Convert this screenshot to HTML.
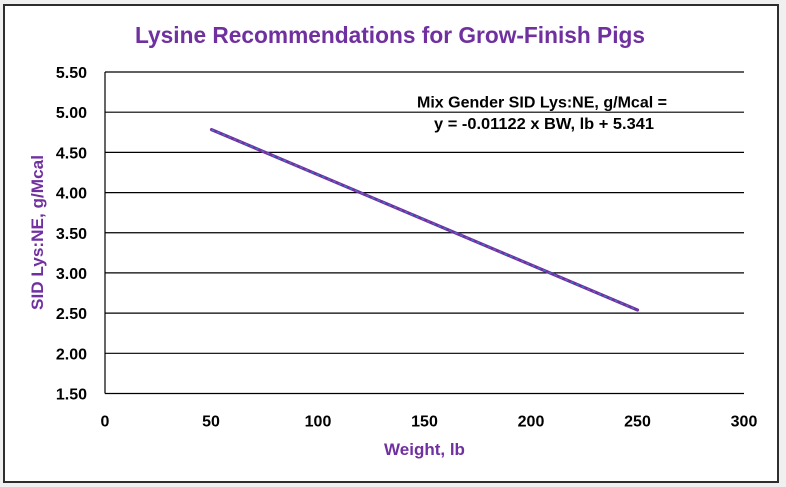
<!DOCTYPE html>
<html>
<head>
<meta charset="utf-8">
<style>
  html, body { margin:0; padding:0; background:#f0f0f0; }
  body { width:786px; height:487px; overflow:hidden; }
  svg { display:block; }
  text { font-family: "Liberation Sans", Arial, sans-serif; font-weight:bold; }
</style>
</head>
<body>
<svg width="786" height="487" viewBox="0 0 786 487" xmlns="http://www.w3.org/2000/svg">
  <rect x="0" y="0" width="786" height="487" fill="#f0f0f0"/>
  <rect x="4" y="5" width="774" height="477" fill="#ffffff" stroke="#2e2e2e" stroke-width="2"/>

  <!-- Title -->
  <text x="390" y="43" text-anchor="middle" font-size="22.7" fill="#7030A0" textLength="510" lengthAdjust="spacingAndGlyphs">Lysine Recommendations for Grow-Finish Pigs</text>

  <!-- Gridlines -->
  <g stroke="#000" stroke-width="1.2">
    <line x1="105" y1="72" x2="744" y2="72"/>
    <line x1="105" y1="112.2" x2="744" y2="112.2"/>
    <line x1="105" y1="152.4" x2="744" y2="152.4"/>
    <line x1="105" y1="192.6" x2="744" y2="192.6"/>
    <line x1="105" y1="232.75" x2="744" y2="232.75"/>
    <line x1="105" y1="272.9" x2="744" y2="272.9"/>
    <line x1="105" y1="313.1" x2="744" y2="313.1"/>
    <line x1="105" y1="353.3" x2="744" y2="353.3"/>
    <line x1="105" y1="393.5" x2="744" y2="393.5"/>
    <line x1="105" y1="72" x2="105" y2="393.5"/>
  </g>

  <!-- Y tick labels -->
  <g font-size="16" fill="#000" text-anchor="end">
    <text x="87" y="78">5.50</text>
    <text x="87" y="118.2">5.00</text>
    <text x="87" y="158.4">4.50</text>
    <text x="87" y="198.6">4.00</text>
    <text x="87" y="238.75">3.50</text>
    <text x="87" y="278.9">3.00</text>
    <text x="87" y="319.1">2.50</text>
    <text x="87" y="359.3">2.00</text>
    <text x="87" y="399.5">1.50</text>
  </g>

  <!-- X tick labels -->
  <g font-size="16" fill="#000" text-anchor="middle">
    <text x="105" y="426.5">0</text>
    <text x="211" y="426.5">50</text>
    <text x="318" y="426.5">100</text>
    <text x="424.5" y="426.5">150</text>
    <text x="531" y="426.5">200</text>
    <text x="637.5" y="426.5">250</text>
    <text x="744" y="426.5">300</text>
  </g>

  <!-- Axis titles -->
  <text x="424.5" y="455" text-anchor="middle" font-size="17" fill="#7030A0">Weight, lb</text>
  <text transform="translate(43,232.5) rotate(-90)" x="0" y="0" text-anchor="middle" font-size="17" fill="#7030A0" textLength="155" lengthAdjust="spacingAndGlyphs">SID Lys:NE, g/Mcal</text>

  <!-- Annotation -->
  <text x="542" y="107.7" text-anchor="middle" font-size="16" fill="#000" textLength="250" lengthAdjust="spacingAndGlyphs">Mix Gender SID Lys:NE, g/Mcal =</text>
  <text x="544" y="129" text-anchor="middle" font-size="16" fill="#000" textLength="220" lengthAdjust="spacingAndGlyphs">y = -0.01122 x BW, lb + 5.341</text>

  <!-- Series line -->
  <line x1="211.5" y1="129.6" x2="637.5" y2="310" stroke="#7030A0" stroke-width="3.2" stroke-linecap="round"/>
  <line x1="211.5" y1="129.6" x2="637.5" y2="310" stroke="#4472C4" stroke-width="1.4" stroke-dasharray="3,3"/>
</svg>
</body>
</html>
